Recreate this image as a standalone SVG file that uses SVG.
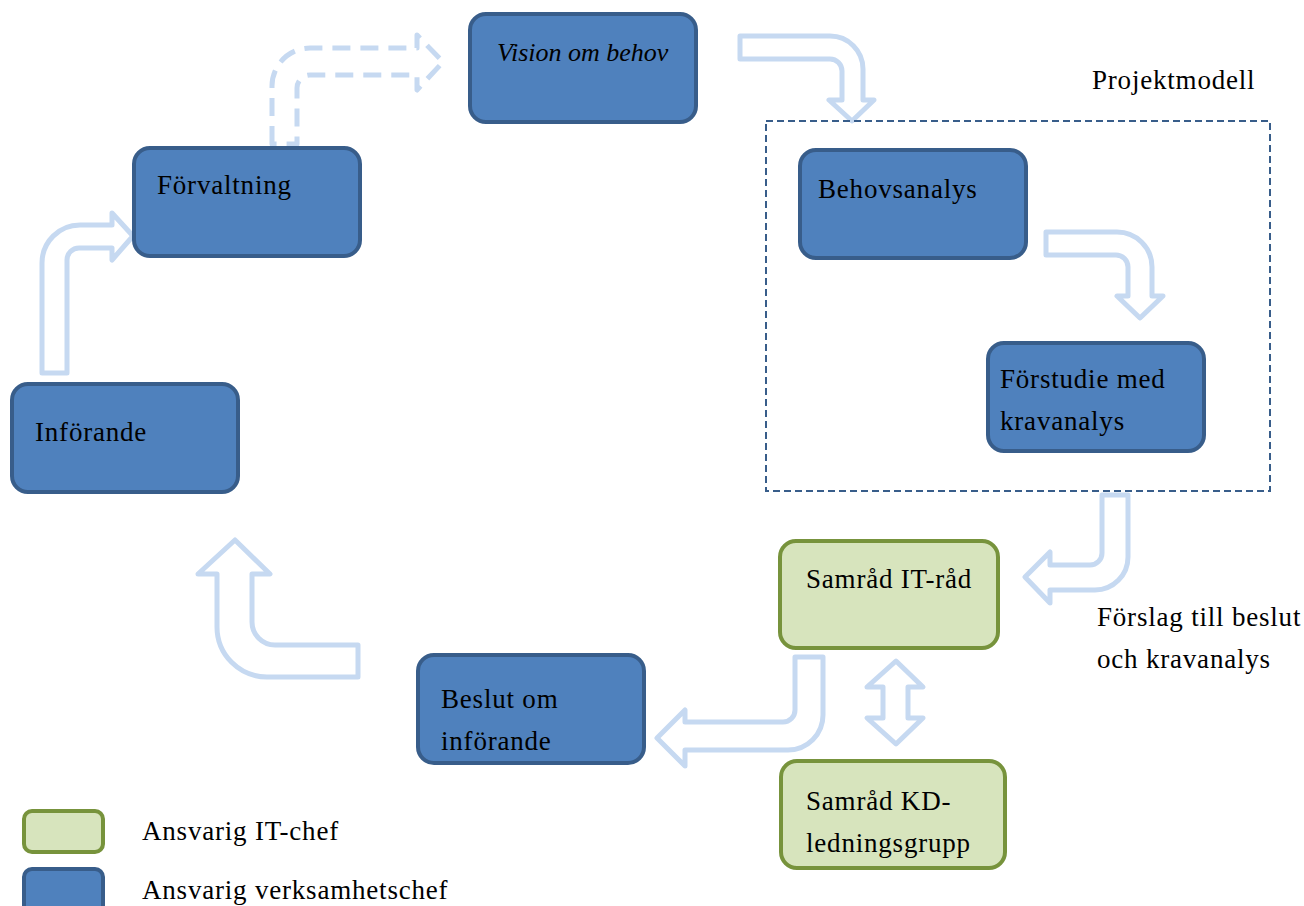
<svg xmlns="http://www.w3.org/2000/svg" width="1304" height="906" viewBox="0 0 1304 906">
<style>
.b{fill:#4F81BD;stroke:#385D8A;stroke-width:4}
.g{fill:#D7E4BD;stroke:#77933C;stroke-width:4}
.t{font-family:"Liberation Serif",serif;font-size:27px;letter-spacing:0.8px;fill:#000}
.i{font-style:italic;font-size:26px;letter-spacing:0}
.a{fill:#fff;stroke:#C6D9F1;stroke-width:5;stroke-linejoin:round}
.d{stroke-dasharray:18 10}
.box{fill:none;stroke:#385D8A;stroke-width:2;stroke-dasharray:7 4}
</style>
<rect width="1304" height="906" fill="#fff"/>
<g id="connectors">
<path class="a" d="M740,36 H830 A33,33 0 0 1 863,69 V100 H874 L852,121 L829,100 H842 V71 A12,12 0 0 0 830,59 H740 Z"/>
<path class="a" d="M1046,232 H1117 A35,35 0 0 1 1152,267 V296 H1163 L1140,318 L1117,296 H1128 V267 A12,12 0 0 0 1116,255 H1046 Z"/>
<path class="a" d="M1102,495 H1128 V557 A33,33 0 0 1 1095,590 H1050 V603 L1025,577 L1050,552 V565 H1090 A12,12 0 0 0 1102,553 Z"/>
<path class="a" d="M795,657 H823 V715 A35,35 0 0 1 788,750 H685 V766 L657,738 L685,710 V722 H783 A12,12 0 0 0 795,710 Z"/>
<path class="a" d="M358,645 V677 H267 A50,50 0 0 1 217,627 V574 H198 L235,540 L270,574 H252 V622 A23,23 0 0 0 275,645 Z"/>
<path class="a" d="M42,373 V263 A38,38 0 0 1 80,225 H112 V213 L133,236 L112,260 V248 H79 A12,12 0 0 0 67,260 V373 Z"/>
<path class="a d" d="M272,144 V86 A38,38 0 0 1 310,48 H417 V35 L443,62 L417,90 V75 H310 A13,13 0 0 0 297,88 V144 Z"/>
<path class="a" d="M896,661 L923,687 H908 V718 H923 L896,744 L867,718 H883 V687 H867 Z"/>
</g>
<g id="projektmodell">
<rect class="box" x="766" y="121" width="504" height="370"/>
<text class="t" x="1092" y="89">Projektmodell</text>
</g>
<g id="vision">
<rect class="b" x="470" y="14" width="226" height="108" rx="16"/>
<text class="t i" x="497" y="61">Vision om behov</text>
</g>
<g id="forvaltning">
<rect class="b" x="134" y="148" width="226" height="108" rx="16"/>
<text class="t" x="157" y="194">Förvaltning</text>
</g>
<g id="behovsanalys">
<rect class="b" x="800" y="150" width="226" height="108" rx="16"/>
<text class="t" x="818" y="198">Behovsanalys</text>
</g>
<g id="forstudie">
<rect class="b" x="988" y="343" width="216" height="108" rx="16"/>
<text class="t" x="1000" y="388">Förstudie med</text>
<text class="t" x="1000" y="430">kravanalys</text>
</g>
<g id="inforande">
<rect class="b" x="12" y="384" width="226" height="108" rx="16"/>
<text class="t" x="35" y="441">Införande</text>
</g>
<g id="samrad-it">
<rect class="g" x="780" y="541" width="218" height="107" rx="16"/>
<text class="t" x="806" y="588">Samråd IT-råd</text>
</g>
<g id="forslag">
<text class="t" x="1097" y="626">Förslag till beslut</text>
<text class="t" x="1097" y="668">och kravanalys</text>
</g>
<g id="beslut">
<rect class="b" x="418" y="655" width="226" height="108" rx="16"/>
<text class="t" x="441" y="708">Beslut om</text>
<text class="t" x="441" y="750">införande</text>
</g>
<g id="samrad-kd">
<rect class="g" x="781" y="761" width="224" height="107" rx="16"/>
<text class="t" x="806" y="810">Samråd KD-</text>
<text class="t" x="806" y="852">ledningsgrupp</text>
</g>
<g id="legend">
<rect class="g" x="24" y="811" width="79" height="41" rx="8"/>
<text class="t" x="142" y="840">Ansvarig IT-chef</text>
<rect class="b" x="24" y="869" width="79" height="45" rx="8"/>
<text class="t" x="142" y="899">Ansvarig verksamhetschef</text>
</g>
</svg>
